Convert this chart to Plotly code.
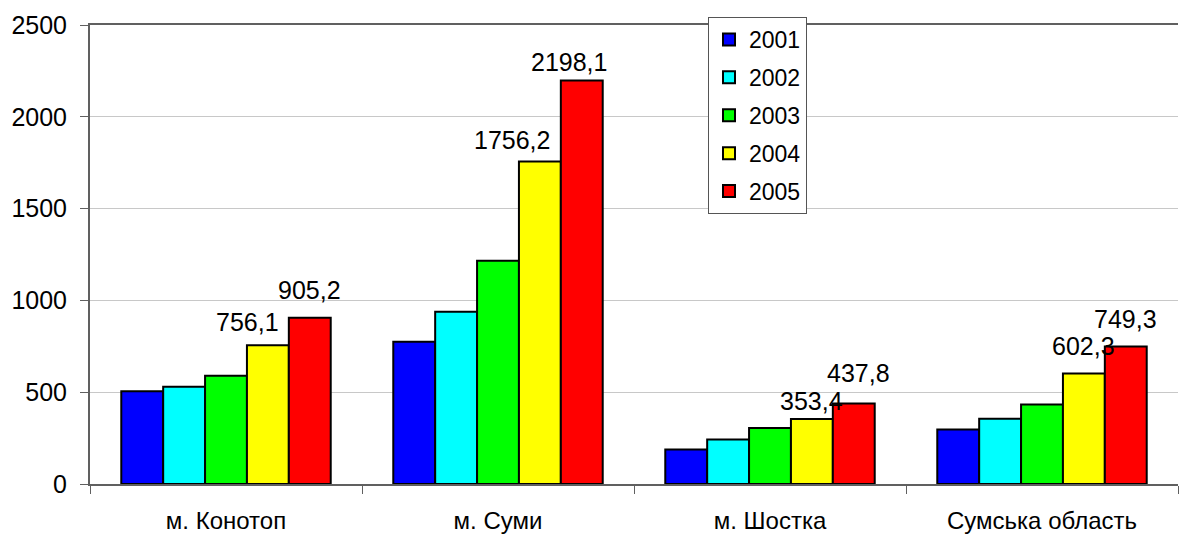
import plotly.graph_objects as go

categories = ["м. Конотоп", "м. Суми", "м. Шостка", "Сумська область"]
years = ["2001", "2002", "2003", "2004", "2005"]
v2001 = [505, 775, 188, 297]
v2002 = [530, 938, 242, 355]
v2003 = [590, 1216, 305, 433]
v2004 = [756.1, 1756.2, 353.4, 602.3]
v2005 = [905.2, 2198.1, 437.8, 749.3]
series = [v2001, v2002, v2003, v2004, v2005]
colors = ["#0000FF", "#00FFFF", "#00FF00", "#FFFF00", "#FF0000"]
labelled = [3, 4]  # series indices that carry value labels (2004, 2005)

# label nudges (px): (dx, dy) for series 2004 and 2005 in each category
label_shift = {
    (0, 3): (-20, 23), (0, 4): (0, 28),
    (1, 3): (-28, 22), (1, 4): (-13, 18),
    (2, 3): (0, 18), (2, 4): (5, 31),
    (3, 3): (0, 27), (3, 4): (0, 27),
}

FONT = "Liberation Sans, Arial, sans-serif"
bargap = 0.23

fig = go.Figure()
for k, (yr, vals, col) in enumerate(zip(years, series, colors)):
    fig.add_trace(go.Bar(
        x=categories, y=vals, name=yr, legendgroup=yr,
        marker=dict(color=col, line=dict(color="#000000", width=2)),
        hoverinfo="x+y+name",
    ))

bar_w = (1 - bargap) / len(series)
annotations = []
for k in labelled:
    for i, v in enumerate(series[k]):
        dx, dy = label_shift[(i, k)]
        annotations.append(dict(
            x=i + (k - (len(series) - 1) / 2) * bar_w, y=v,
            xref="x", yref="y", text=f"{v:.1f}".replace(".", ","),
            showarrow=False, xanchor="center", yanchor="middle",
            xshift=dx, yshift=dy,
            font=dict(family=FONT, size=25, color="#000000"),
        ))

fig.update_layout(
    width=1179, height=534,
    margin=dict(l=90, r=1, t=25, b=50, autoexpand=False),
    paper_bgcolor="#FFFFFF", plot_bgcolor="#FFFFFF",
    barmode="group", bargap=bargap, bargroupgap=0,
    font=dict(family=FONT, size=24, color="#000000"),
    showlegend=True,
    legend=dict(
        x=(708 - 90) / 1088, y=(484 - 17) / 459, xanchor="left", yanchor="top",
        bgcolor="#FFFFFF", bordercolor="#555555", borderwidth=1,
        font=dict(family=FONT, size=23, color="#000000"),
        tracegroupgap=5, traceorder="grouped", itemwidth=30,
    ),
    annotations=annotations,
    xaxis=dict(
        type="category", showgrid=False, showline=True, linecolor="#606060", linewidth=2,
        mirror=True,
        ticks="outside", tickson="boundaries", ticklen=8, tickcolor="#606060", tickwidth=1,
        ticklabelstandoff=14,
        tickfont=dict(family=FONT, size=24, color="#000000"),
        range=[-0.5, 3.5],
    ),
    yaxis=dict(
        range=[0, 2500], tickvals=[0, 500, 1000, 1500, 2000, 2500],
        showgrid=True, gridcolor="#C8C8C8", gridwidth=1,
        showline=True, linecolor="#606060", linewidth=2,
        ticks="outside", ticklen=8, tickcolor="#606060", tickwidth=1,
        ticklabelstandoff=8,
        tickfont=dict(family=FONT, size=25, color="#000000"),
        zeroline=False,
    ),
)

fig.write_html(
    "out.html",
    config={"displayModeBar": False},
    post_script="document.body.style.margin='0';document.body.style.padding='0';",
)
